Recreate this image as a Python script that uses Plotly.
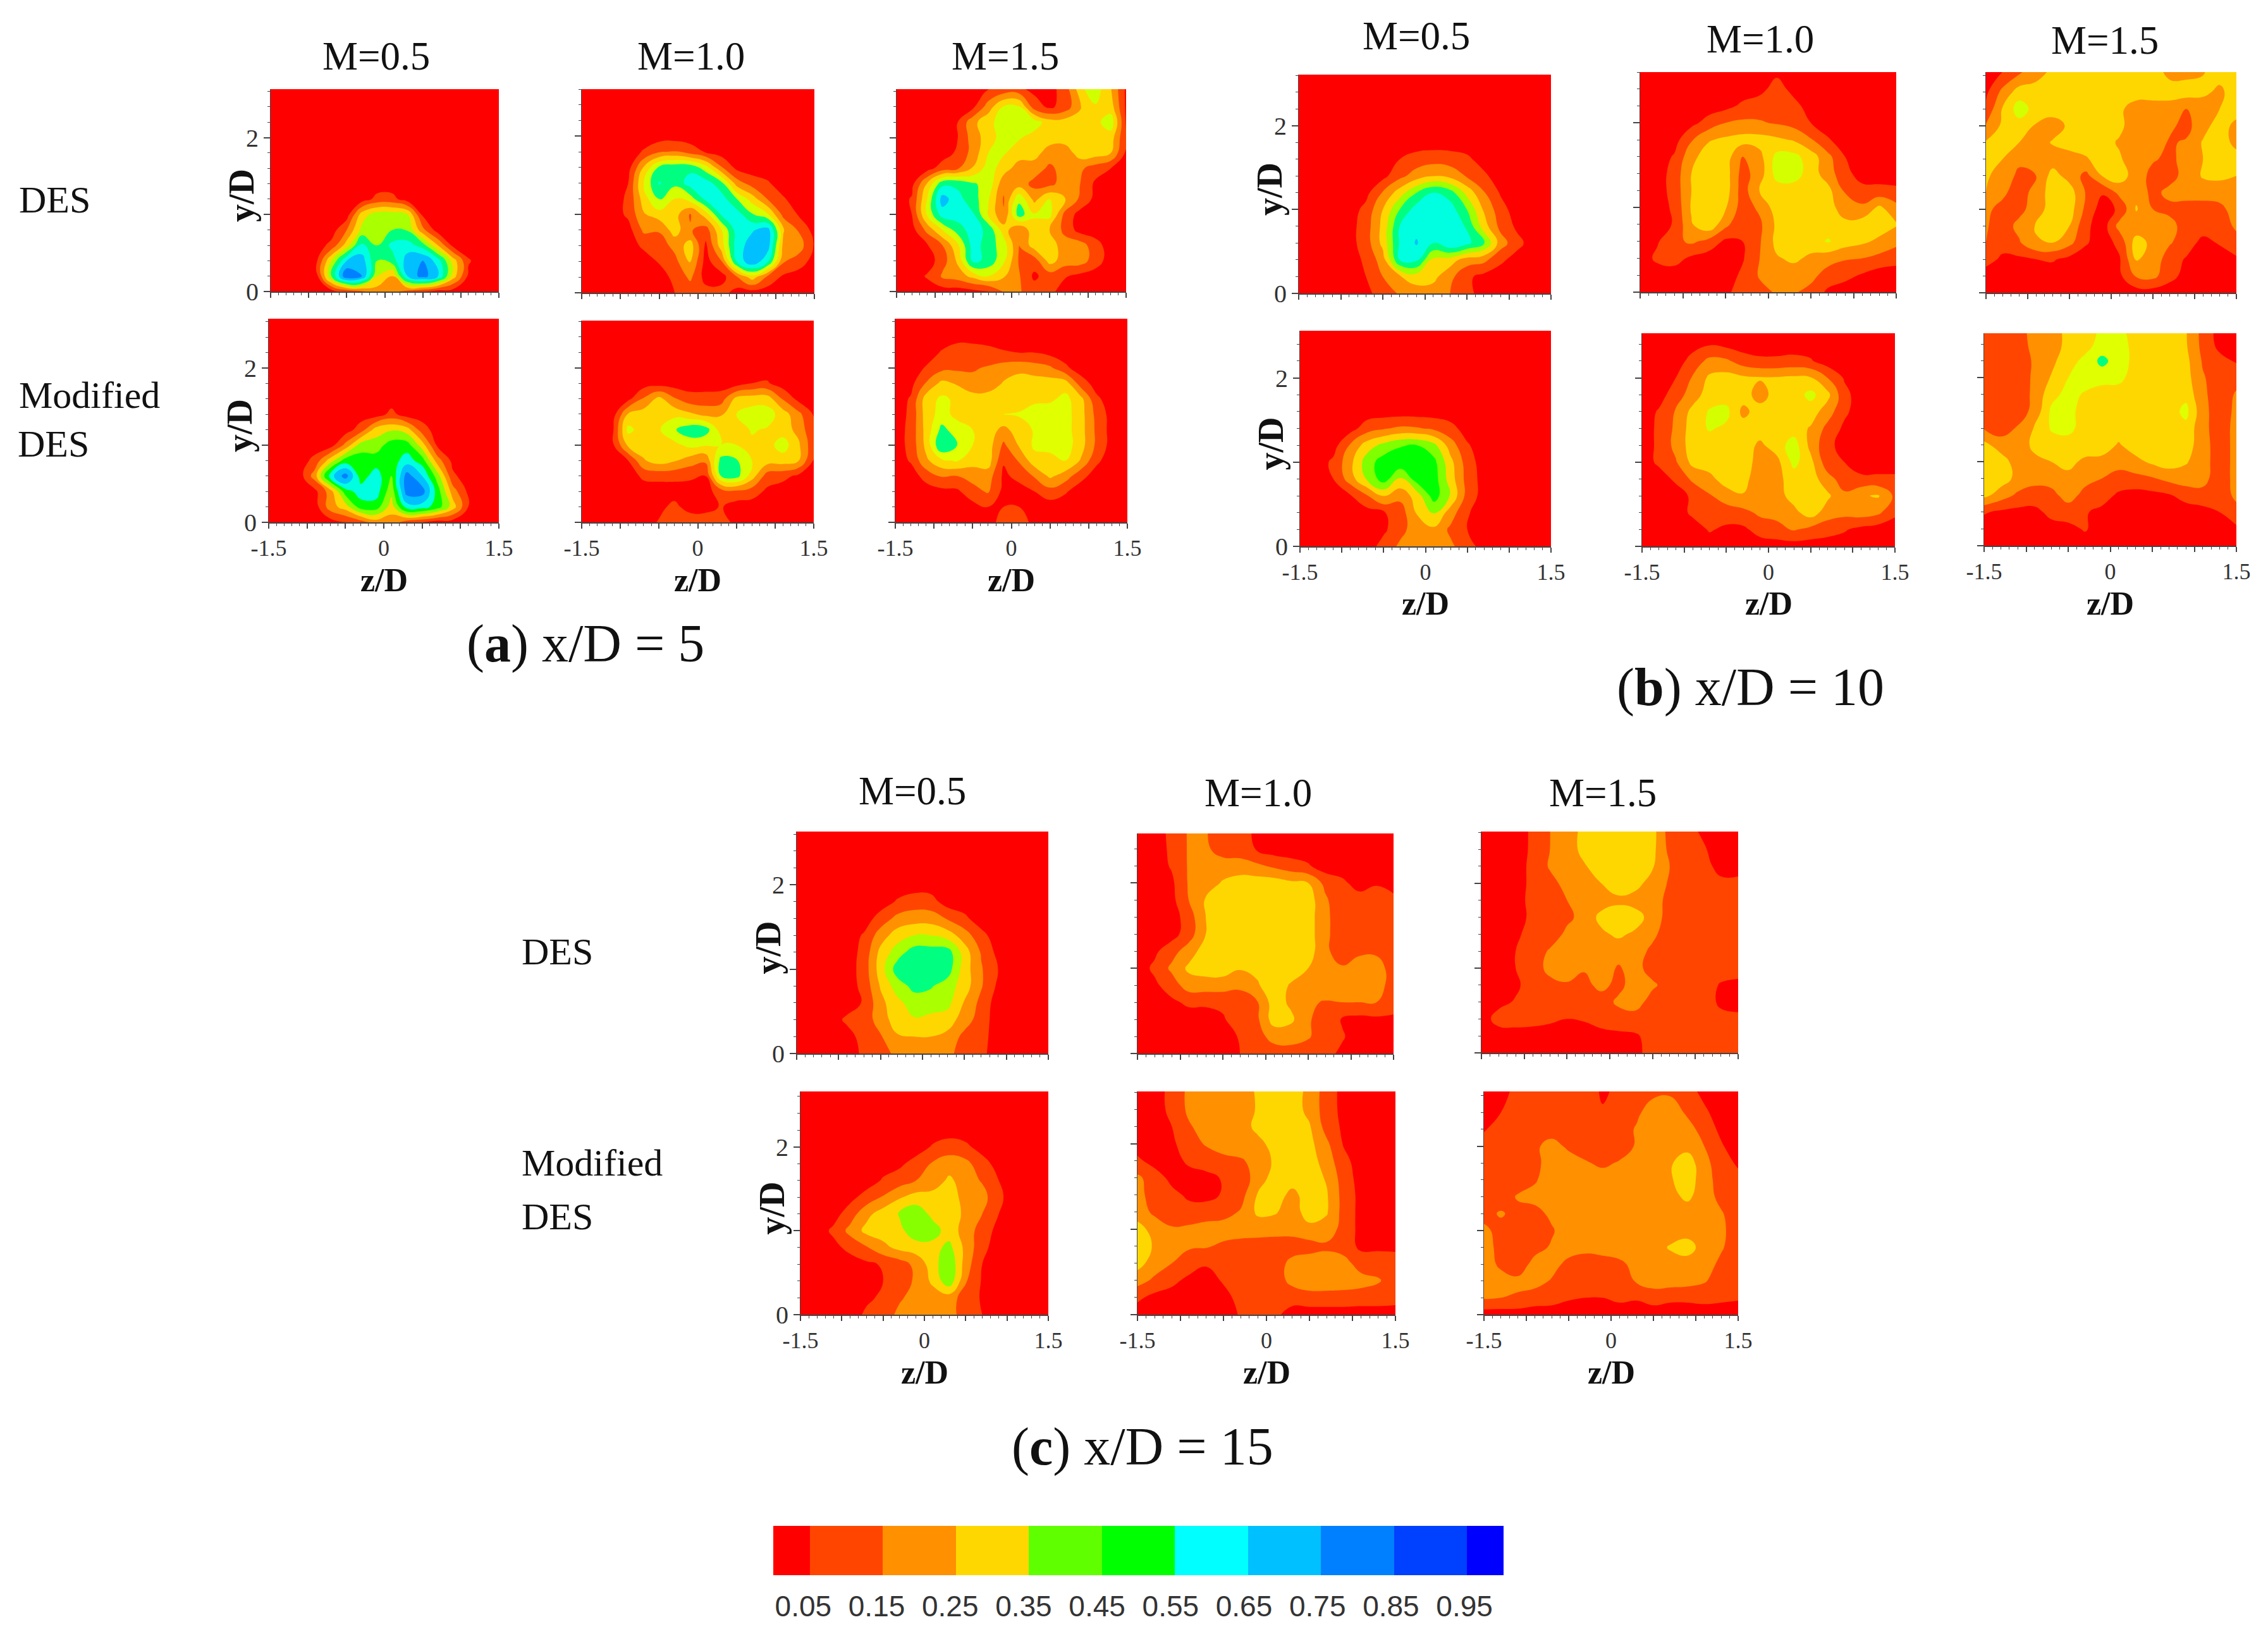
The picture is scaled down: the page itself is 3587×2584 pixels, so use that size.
import plotly.graph_objects as go

W, H = 3587, 2584
FONT = "Liberation Serif"
Z_GRID = [-1.5 + 0.2 * i for i in range(16)]
Y_GRID = [0.2 * j for j in range(13)] + [2.7]

# Values are in tenths of the plotted variable; rows run from the top of a panel down to y/D = 0.
A_DES_05 = [
 [0]*16,[0]*16,[0]*16,[0]*16,[0]*16,[0]*16,[0]*16,
 [0,0,0,0,0,0,0,.8,.8,0,0,0,0,0,0,0],
 [0,0,0,0,0,0,3,4,4,3.5,.3,0,0,0,0,0],
 [0,0,0,0,0,1.5,3.8,4,4.5,4.4,1.8,0,0,0,0,0],
 [0,0,0,0,.8,3,5.8,4.5,5.8,6,5,2.5,.2,0,0,0],
 [0,0,0,.3,3.5,6.5,7,4.5,5,7,7.5,6,3,.6,0,0],
 [0,0,0,0,4.5,8.5,7.5,3.5,2.5,6.5,8,6.5,3,.3,0,0],
 [0,0,0,0,0,.7,1.3,2,1.7,1.2,.6,0,0,0,0,0]]
A_DES_10 = [
 [0]*16,[0]*16,[0]*16,[0]*16,
 [0,0,0,0,.6,1.4,1.6,1,.4,0,0,0,0,0,0,0],
 [0,0,0,.1,2.6,4.7,5.2,5.2,3.9,1.6,.2,0,0,0,0,0],
 [0,0,0,.5,3.6,5.6,4.8,6,6,4.8,2,1,.6,0,0,0],
 [0,0,0,.7,3,4.7,3.4,4,5.8,6,4.5,3,1.4,.6,0,0],
 [0,0,0,.7,2.4,3,2.9,1.4,3,5.6,6,4.6,3.6,1.2,.4,0],
 [0,0,0,.1,1.7,1.6,3,1.6,1,3.4,6,6.4,7,2.6,1.4,.1],
 [0,0,0,0,.7,1,1.8,3,.3,3,6,7,7,2.2,2,.4],
 [0,0,0,0,0,.6,1.2,2.6,.1,1.4,5.6,7.4,5.6,1.6,1,.1],
 [0,0,0,0,0,0,.8,1.7,.1,.1,1.4,3,1.2,.3,0,0],
 [0,0,0,0,0,0,.5,.9,.9,.9,.1,0,0,0,0,0]]
A_DES_15 = [
 [0,0,0,0,0,0,0,0,0,0,0,1.2,3.4,4.2,2.5,.3],
 [0,0,0,0,0,.3,2,3.6,3.6,1,.3,.9,2.4,3.4,3,.3],
 [0,0,0,0,.5,2.2,3.2,4,4,4,3,3,2.9,3.2,4.1,.4],
 [0,0,0,0,.5,2,3,4,3.6,3.1,3,3,3,3,3,.5],
 [0,0,0,0,.7,1.9,3.5,3.6,3,2.9,2,1.9,3,3,2.5,.3],
 [0,0,.1,1,1.4,2.6,4,3,2,2,1.3,1.9,1.7,1,.5,0],
 [0,.2,2.6,5.2,5.3,4.6,4.2,1.8,2,1.2,1.2,2,1.5,.3,0,0],
 [0,.6,3.5,7,5.8,5,3.6,1.4,4.3,2.2,3.5,2.6,1.3,.2,0,0],
 [0,.5,3.6,6,6,5.6,3.4,1.6,5,3.6,3.8,1.2,.1,0,0,0],
 [0,.1,1.8,3.5,5,6,5.2,3,1.5,3.2,2.5,1.2,.1,0,0,0],
 [0,0,.4,1.5,3.3,6,5,4,1.5,3,3,2,2,.9,0,0],
 [0,0,0,1,2.7,5.8,5.2,3.7,1.4,1,2.9,2,2,1,0,0],
 [0,0,.6,1.7,2,2.8,3.5,2.6,1.6,.3,1,.6,.2,0,0,0],
 [0,0,0,0,0,.2,.4,1.6,1.6,1,.8,0,0,0,0,0]]
A_MOD_05 = [
 [0]*16,[0]*16,[0]*16,[0]*16,[0]*16,[0]*16,
 [0,0,0,0,0,0,0,0,.8,0,0,0,0,0,0,0],
 [0,0,0,0,0,0,1,3,3.4,3,1,0,0,0,0,0],
 [0,0,0,0,0,1.8,4,4,5,5,3,.3,0,0,0,0],
 [0,0,0,.8,3,5,5,5,5,6,5,2,.2,0,0,0],
 [0,0,0,2,6,8,5,6,4.5,8,6.5,4,.7,0,0,0],
 [0,0,0,.2,2,5,6,6,3.8,8,8,5,2,.3,0,0],
 [0,0,0,0,2,3,5,5,3,6,6,5,3,.5,0,0],
 [0,0,0,0,0,.4,1,2,2,1,.5,0,0,0,0,0]]
A_MOD_10 = [
 [0]*16,[0]*16,[0]*16,[0]*16,
 [0,0,0,0,0,0,0,0,0,0,0,.5,.6,0,0,0],
 [0,0,0,.2,1.6,2.8,1.6,.9,.9,1,2.8,3,3,1.4,.2,0],
 [0,0,0,2.6,3,3.2,3.2,2.7,2.2,2.4,3.5,4,4,3,1.8,.4],
 [0,0,.3,3.8,3,3.4,4.4,5.2,5,3,3,3.6,3.4,3,2.2,.6],
 [0,0,.3,2.7,3,3.1,3.2,3.8,3.6,3.5,3.5,3.3,3.1,4,2.7,.8],
 [0,0,0,.5,2.4,3,2.6,2,1.7,4.8,4.6,3.5,3,3,2.6,.4],
 [0,0,0,0,.7,.8,.8,.7,.5,4.5,4.9,3,1,.8,.3,0],
 [0,0,0,0,0,0,0,0,.1,1,1.3,1,.3,0,0,0],
 [0,0,0,0,0,.2,.8,0,0,.6,0,0,0,0,0,0],
 [0,0,0,0,0,.6,1.2,1.3,1.3,1,.2,0,0,0,0,0]]
A_MOD_15 = [
 [0]*16,[0]*16,
 [0,0,0,.6,1.3,1.2,.9,.6,.5,.5,.2,0,0,0,0,0],
 [0,0,.6,1.2,1.3,1.4,1.6,2,2.2,2,1.7,.7,0,0,0,0],
 [0,.2,1.6,2.8,2.4,1.8,1.9,2.6,3,3,3,3,1,.1,0,0],
 [0,.6,3,3.7,3.3,3,3,3,3,3,3.3,3.8,2.8,.7,0,0],
 [0,.7,3,3.9,3.2,3,3,3.5,3.6,4.5,4.1,3.9,2.9,1.2,.1,0],
 [0,.8,2.9,4.8,4,3.5,3,2.2,3,3.6,3.9,3.9,2.9,1.3,.1,0],
 [0,.8,2.8,5.5,4.5,3.5,3,1.3,2.6,3.7,4,4,2.9,1.3,.1,0],
 [0,.6,2.3,3.3,3.6,3,3,.6,1.6,3.1,3,3.5,2.4,.7,0,0],
 [0,0,.9,1.6,1.5,1.8,2,.3,.8,1.6,2.7,2,.8,.1,0,0],
 [0,0,0,.2,.3,1.2,1.6,.2,.1,.5,1.1,.6,0,0,0,0],
 [0,0,0,0,0,.1,.5,.5,.5,0,0,0,0,0,0,0],
 [0,0,0,0,0,0,0,1,1,.2,0,0,0,0,0,0]]

B_DES_05 = [
 [0]*16,[0]*16,[0]*16,[0]*16,[0]*16,
 [0,0,0,0,0,0,.5,.9,1.1,1,.7,.1,0,0,0,0],
 [0,0,0,0,0,.2,1.2,2,2.5,2.2,1.4,.7,0,0,0,0],
 [0,0,0,0,.2,1.6,3,4.5,5.6,5,3.2,1.6,.4,0,0,0],
 [0,0,0,0,.8,2.5,4.5,6,6.1,6,4.5,2.4,.9,0,0,0],
 [0,0,0,.1,1,2.8,5.5,6.2,6,6.1,5.4,3,1.2,.3,0,0],
 [0,0,0,.1,1,2.8,5.6,6.6,5.5,6.5,5.8,4.6,2,.8,0,0],
 [0,0,0,0,.7,2,5.5,5.7,3.2,3,2,1.8,.7,.1,0,0],
 [0,0,0,0,.5,1.5,2.4,3,2.8,1.8,.7,.2,0,0,0,0],
 [0,0,0,0,.2,1,1.6,2,2,1.5,.8,.1,0,0,0,0]]
B_DES_10 = [
 [0]*16,
 [0,0,0,0,0,0,0,.2,.9,.2,0,0,0,0,0,0],
 [0,0,0,0,0,.2,.7,1,1.2,.8,.1,0,0,0,0,0],
 [0,0,0,.2,.9,1.5,1.7,1.6,1.4,1.1,.5,0,0,0,0,0],
 [0,0,.1,1.4,2.4,2.7,2.9,2.9,2.7,2.4,1.6,.6,0,0,0,0],
 [0,0,.6,2.2,3,3,1.5,2.2,3.8,3.8,3,1.8,.5,0,0,0],
 [0,0,.9,2.5,3,3,1.1,2,3.9,4,3,2,.8,.1,0,0],
 [0,0,.9,2.5,3,3,1,2.6,3,3,3,2.8,1.4,.8,.8,.7],
 [0,0,.7,2.6,3,2.6,1,1.7,3,3,3,3,1.9,1.7,2.7,1.8],
 [0,0,.6,2.4,3.3,1.8,.6,1.3,2.7,3.2,3,3,2.8,3,3,2.6],
 [0,.4,1.2,1.7,1.2,.3,.5,1.4,2.8,3,3,3.6,3,2.7,2.3,1.8],
 [0,.7,.9,.3,0,0,.4,1.5,2.4,2.7,2.3,1.9,1.6,1.5,1.2,.9],
 [0,0,0,0,0,0,.7,1.6,2,2,1.8,1.1,.8,.4,0,0],
 [0,0,0,0,0,.3,.9,1.2,1.6,1.6,1.2,.3,0,0,0,0]]
B_DES_15 = [
 [0,.2,.9,1.8,2.6,3,3,3,3,3,3,2,2,2.4,3,3],
 [.3,1.8,3,3,3,3,3,3,3,3,3,3,3,2.7,2.3,3],
 [.7,2.6,4,3.1,3,3,3,3,2.7,2,2,2,1.5,2,2.5,3],
 [1.6,2.7,3.1,2.4,2,2.7,3,3,2.7,2,2,1.7,1.2,2.1,3,2.2],
 [2.6,3,2.5,2,2.6,3,3,2.8,2.4,2,2,1.4,1.6,2.6,3,2.2],
 [2.7,2.5,1.8,2,2,2,2.4,3,2.6,2,1.6,1.3,1.8,2.5,3,2.9],
 [2.6,2.2,1.2,1.5,2.9,2.1,1.2,2.6,3,2,1.2,1.1,1.9,2.6,2.7,2.5],
 [2.5,1.7,1,1.9,3,3,1.4,.6,1.8,2.2,1.2,1.8,2,2,2,2],
 [1.7,1.2,1.2,2,3,3,1.2,0,.7,2.6,1.5,1.2,1,1,1.2,2],
 [1.6,1,1.8,2.6,3,2.5,.7,0,1.9,1.8,2,1.9,1,1,1.2,1.6],
 [1.5,.9,1.4,2.4,2.5,1.8,.6,0,.8,3,2.2,1.6,1,.2,.6,1.3],
 [.9,.3,.3,.5,.6,.2,0,0,.4,2.6,2.1,1,.4,0,0,.3],
 [0,0,0,0,0,0,0,0,.3,1.6,1.8,.8,.2,0,0,0],
 [0]*16]
B_MOD_05 = [
 [0]*16,[0]*16,[0]*16,[0]*16,[0]*16,[0]*16,
 [0,0,0,.1,1,1.4,1.7,1.6,1.3,.8,.1,0,0,0,0,0],
 [0,0,.1,1.6,3,3.8,4.4,4.5,3.8,2,.6,0,0,0,0,0],
 [0,0,.7,2.2,4,5,5.2,5.2,4.8,2.8,1,0,0,0,0,0],
 [0,0,.5,2,3.6,5,3.4,5,5,3,1.1,.1,0,0,0,0],
 [0,0,0,.4,1.4,2.6,1.8,3,5,3.4,1.1,.1,0,0,0,0],
 [0,0,0,0,.1,.4,1,2.6,3.6,2,.6,0,0,0,0,0],
 [0,0,0,0,0,.3,1.2,2,2.3,1.3,.5,0,0,0,0,0],
 [0,0,0,0,0,.9,1.7,2.2,2.2,1.7,.9,.1,0,0,0,0]]
B_MOD_10 = [
 [0]*16,
 [0,0,0,.1,.4,.2,0,0,0,0,0,0,0,0,0,0],
 [0,0,0,.9,1.8,1.7,1,.7,.7,.8,.6,0,0,0,0,0],
 [0,0,.5,1.6,2.7,2.9,2.7,2.6,2.6,2.7,2.6,1.5,.4,0,0,0],
 [0,.1,1,2,3,3,3,2,3,3,3.8,2.8,.8,0,0,0],
 [0,.6,1.6,2.8,3.6,3.8,2.2,3,3,3.2,3,2,.7,0,0,0],
 [0,.7,1.7,3,3.6,3.3,3,3,3,3,2.4,1.2,.3,0,0,0],
 [0,.7,1.8,3,3,2.8,3,2.3,3,4,2.2,.8,.1,0,0,0],
 [0,.7,1.4,2.8,3,2.9,3,2.1,2.2,3.8,2.8,.9,.5,0,0,0],
 [0,0,.7,1.7,2.2,3,3,1.6,2.2,3,3,1.9,1,.7,.7,.7],
 [0,0,0,.7,1.4,2,2.4,1.8,2.1,2.9,3,2.7,1.7,2.4,2.6,1.3],
 [0,0,0,.7,1,1,1.2,1.7,1.8,2.2,3,2,1.8,2,1.7,.7],
 [0,0,0,0,.6,.3,.3,.9,1.2,1.6,1.2,.9,.6,.2,0,0],
 [0]*16]
B_MOD_15 = [
 [1,1,1.2,1.8,2.2,2.8,3.2,3.6,3.6,3.2,3,3,2.6,1.2,.2,.4],
 [1,1,1.2,1.7,2,2.8,3.2,3.8,3.9,3.2,3,3,2.6,1.2,.2,.3],
 [1,1,1.1,1.6,2.2,3.2,3.7,4.8,4,3.2,3,3,2.8,1.4,.8,.4],
 [1,.9,1.2,1.6,2.6,3.5,3.9,3.9,3.8,3,3,3,2.9,1.6,1,1.2],
 [1,1,1,1.7,3.2,3.8,3.4,3,3,3,3,3,3.2,1.7,1,1.6],
 [1,.7,1,1.8,3.7,3.9,3,3,3,3,3,3,3.8,1.8,1,1.7],
 [1.4,1,1.6,2.6,3.6,3.7,3.2,3,3,3,3,3,3.2,1.8,1,1.8],
 [2.8,2,1.8,2.8,3.1,3.2,3.3,3,2.4,3,3,3,3,1.9,1,1.8],
 [3,3,2,2.2,2.5,2.9,2.2,2.2,1.8,2.2,2.7,3,2.6,1.9,1,1.8],
 [3,3,2.2,1.8,1.9,2.1,1.8,1.5,1.2,1.2,1.4,1.8,2,1.8,1,1.8],
 [2.8,2,1.3,1.1,1.2,1.9,1.2,1,.3,.1,.2,.4,.9,1.2,1,1.7],
 [.6,.3,.2,.2,.8,1,.6,.2,0,0,0,0,0,.1,.5,1.2],
 [0,0,0,0,.1,.2,.6,0,0,0,0,0,0,0,0,.3],
 [0]*16]

C_DES_05 = [
 [0]*16,[0]*16,[0]*16,[0]*16,
 [0,0,0,0,0,0,.6,1,.9,0,0,0,0,0,0,0],
 [0,0,0,0,0,.9,1.8,2,2,1.4,.7,0,0,0,0,0],
 [0,0,0,0,.6,2,3,3.5,3.5,3,2,.8,0,0,0,0],
 [0,0,0,0,.8,2.8,4,5,5,5,3,1.4,.2,0,0,0],
 [0,0,0,0,.9,3,5,5.2,5.2,5,3,1.6,.5,0,0,0],
 [0,0,0,0,.8,2.6,4,4.8,4.6,4,3,1.6,.3,0,0,0],
 [0,0,0,0,.6,2.2,3.2,4,4,3.8,2.4,1.2,0,0,0,0],
 [0,0,0,.7,.9,2,3,3.4,3.2,3,2,1,0,0,0,0],
 [0,0,0,.1,.9,1.4,2.4,2.5,2.5,2.2,1.2,.8,.1,0,0,0],
 [0,0,0,0,.7,1,1.8,2.2,2.2,1.8,1,.7,.1,0,0,0]]
C_DES_10 = [
 [0,0,.8,1.6,1.6,1,1,.3,0,0,0,0,0,0,0,0],
 [0,0,.7,1.6,1.7,1,1,.4,0,0,0,0,0,0,0,0],
 [0,0,.6,1.6,2,2,1.9,1.7,1.3,.9,.6,0,0,0,0,0],
 [0,0,.3,1.6,2,2.6,3,3,3,2.7,2.5,1.2,.7,.1,.4,0],
 [0,0,.2,1.5,2.6,3,3,3,3,3,3,1.7,.6,.9,1,.8],
 [0,0,0,1,2.5,3,3,3,3,3,3,1.7,1,1,1,1],
 [0,0,.1,1,2.5,3,3,3,3,3,3,1.7,1,1,1,1],
 [0,.3,1.1,2,3,3,3,3,3,3,3,1.7,1,1.3,1.3,1],
 [0,.7,1.7,2.7,3,3,2.6,2.7,3,3,2.5,1.6,1.6,2,2,1],
 [0,.3,1,2,2,2,1.7,2.4,3,2.4,2.4,2.4,2,2,2,1],
 [0,0,.3,.7,.7,.7,1,1.4,3,2.3,1.7,1.4,1.5,1.5,1.5,1],
 [0,0,0,0,0,.4,1,1.3,3,2.7,1.6,1.1,.4,.2,.3,.3],
 [0,0,0,0,0,0,.6,1.2,1.8,1.9,1.6,1,.6,0,0,0],
 [0,0,0,0,0,0,.5,1,1.1,1.1,1,.8,.3,0,0,0]]
C_DES_15 = [
 [0,0,0,.7,1.5,2,2.7,3,3,3,2.9,1,.7,.2,0,0],
 [0,0,0,.7,1.5,2,2.8,3,3,3,2.8,1.2,.9,.6,0,0],
 [0,0,0,.8,1.6,1.9,2.4,3,3,3,2.6,1.5,1,.8,.2,.2],
 [0,0,0,.8,1.2,1.8,2,2.5,3,2.9,2,1.4,1,.9,.7,.7],
 [0,0,0,.9,1,1.5,2,2,2.3,2,1.8,1.3,1,1,1,1],
 [0,0,0,.8,1,1.3,1.8,2.8,3,3,2,1.1,1,1,1,1],
 [0,0,.3,.9,1,1.7,2,2.3,2.7,2.3,1.7,1,1,1,1,1],
 [0,0,.5,1,1.6,2.1,2,2,1.9,1.9,1.3,1,1,1,1,1],
 [0,0,.5,1,1.8,2.4,1.6,2,1.4,1.9,1,1,1,1,1,1],
 [0,0,.3,1,1.2,1.3,1.2,1.8,1.2,2,1.7,1,1,1,.4,.2],
 [0,.2,.6,1,1,1,1,1,1.7,2,1,1,1,1,.3,.2],
 [0,.9,1,.9,.7,.5,.6,1,1,1,1,1,1,1,.8,.7],
 [0,0,0,0,0,0,0,.1,.3,.4,.8,1,1,1,1,1],
 [0,0,0,0,0,0,0,0,0,.3,.8,1,1,1,1,.7]]
C_MOD_05 = [
 [0]*16,[0]*16,[0]*16,
 [0,0,0,0,0,0,0,0,.6,1,.7,.1,0,0,0,0],
 [0,0,0,0,0,.1,.3,.9,1.6,2,1.8,.9,.1,0,0,0],
 [0,0,0,0,0,.6,1,1.5,1.9,2.7,2,1.4,.5,0,0,0],
 [0,0,0,.2,.9,1.6,2.4,2.9,2.9,2.9,2.2,1.9,.7,0,0,0],
 [0,0,.1,1,2.2,3,3.6,4.2,3.2,3,2.3,1.5,.5,0,0,0],
 [0,0,.7,1.8,2.8,3,3.2,4.2,4,3,2.1,1,.2,0,0,0],
 [0,0,.2,.8,1.4,2.2,2.8,3,3.1,3.8,2.2,.8,0,0,0,0],
 [0,0,0,0,.3,.6,1,1.8,3,4.4,2,.5,0,0,0,0],
 [0,0,0,0,0,.5,.9,1.7,2.7,4.2,1.6,.4,0,0,0,0],
 [0,0,0,0,.3,.7,1.4,1.8,2,2,1,.4,0,0,0,0],
 [0,0,0,0,.7,1.1,1.7,2,2,1.9,1,.5,0,0,0,0]]
C_MOD_10 = [
 [0,0,.8,1.7,2,2,2,2.7,3,3,2.3,1,.2,0,0,0],
 [0,0,.8,1.7,2,2,2,2.6,3,3,2.2,1,.2,0,0,0],
 [0,0,.5,1.4,1.9,2,2,2.8,3,3,2.6,1.1,.3,0,0,0],
 [0,0,.3,1.1,1.6,2,2,2.2,2.9,3,2.8,1.7,.4,0,0,0],
 [.7,.1,.1,.7,1,1.2,1.4,1.8,2.7,3,3,2,.8,0,0,0],
 [1.7,1,.2,.1,.2,.6,1,1.9,3,3,3,2.4,1,.1,0,0],
 [1.8,1.1,.8,.3,.2,.6,1.1,2.6,3,2.2,3,2.6,1.1,.2,0,0],
 [2,1.3,1,.9,1,1.1,1.6,2.7,2.6,2,3,2.6,1.1,.2,0,0],
 [2.9,2.1,1.6,1.7,1.9,2,2,1.9,1.9,1.9,2.2,2.1,1.1,.2,0,0],
 [3,2.4,1.9,1.6,1.6,1.3,1.1,1.1,1,1,1.1,1.3,1,.3,.3,.3],
 [2.9,2,1.5,1.1,.6,.7,1,1,1,1.8,2,2,1.9,1,1,.9],
 [1.9,1.3,.8,.2,.1,.6,.9,1,1,1.8,2.1,2.1,2,1.9,1.6,1],
 [.7,.2,0,0,0,.2,.8,1,.6,.9,1.1,1.1,1.1,1,1,.9],
 [0,0,0,0,0,0,.6,1,.7,.1,0,0,0,0,0,0]]
C_MOD_15 = [
 [0,.2,.7,1,1,1,1.1,.3,.7,1,1.1,1.1,.8,.1,0,0],
 [0,.5,1,1,1,1,1,.6,1,1.3,2,2.2,1.3,.7,0,0],
 [.4,1,1,1,1,1,1,1,1,1.6,2.2,2.3,2,1,.3,0],
 [1,1,1,1.3,1.9,1.3,1,1,1,1.6,2.1,2.2,2.2,1.5,.6,0],
 [1,1,1,1.2,2,2,1.6,1.3,1.6,2,2.1,2.4,3,1.9,.8,.4],
 [1,1,1,1.4,2,2,2,2,2,2,2.1,2.4,3,2,1,.7],
 [1,1,1.6,1.8,2,2,2,2,2,2,2,2.2,2.7,2,1.2,.8],
 [1.2,1.6,1.2,1.2,1.7,2,2,2,2,2,2,2,2,2,1.6,.9],
 [1.7,1.2,1,1,1.4,2,2,2,2,2,2,2,2,2,1.7,1],
 [1.9,1.2,1,1.2,1.6,2,1.8,2,2,2,2.1,2.6,3,2,1.6,1],
 [2,1.3,1,1.8,1.9,1.2,1,1,1.3,1.8,2,2.1,2,1.9,1.3,1],
 [2,1.9,1.7,1.9,1.4,1,1,1,1,1.6,2,2,1.9,1.6,1,1],
 [1.6,1.5,1.4,1,.9,.6,.5,.5,.7,.6,.9,.7,.7,.8,.7,.6],
 [0]*16]

BAND_COLORS = ["#FF0000","#FF4500","#FF9000","#FFD700","#C8FF00","#00FF80",
               "#00FFE0","#00C0FF","#0080FF","#0040FF","#0000FF"]
CB_EDGES = [0,.05,.15,.25,.35,.45,.55,.65,.75,.85,.95,1.0]
CB_COLORS = ["#FF0000","#FF4500","#FF9000","#FFD700","#5FFF00","#00FF00",
             "#00FFFF","#00C0FF","#0080FF","#0040FF","#0000FF"]
CB_TICKS = [.05,.15,.25,.35,.45,.55,.65,.75,.85,.95]

# data, left, right, top, bottom (px), top of y axis, lime, green
PANELS = [
 (A_DES_05, 428,789,141,461,2.63,"#AAFF00","#00FF80",True,False),
 (A_DES_10, 920,1288,141,463,2.60,"#D4FF00","#00FF80",False,False),
 (A_DES_15, 1418,1781,141,461,2.63,"#D0FF00","#00FF80",False,False),
 (A_MOD_05, 425,789,504,826,2.64,"#88FF00","#00FF00",True,True),
 (A_MOD_10, 920,1287,507,826,2.61,"#D8FF00","#00FF80",False,True),
 (A_MOD_15, 1416,1783,504,826,2.64,"#E0FF00","#00FF80",False,True),
 (B_DES_05, 2054,2453,118,464,2.61,"#A0FF00","#00FF80",True,False),
 (B_DES_10, 2594,2999,114,462,2.60,"#D4FF00","#00FF80",False,False),
 (B_DES_15, 3141,3537,114,463,2.64,"#D4FF00","#00FF80",False,False),
 (B_MOD_05, 2056,2453,523,864,2.56,"#80FF00","#00FF00",True,True),
 (B_MOD_10, 2597,2997,527,864,2.53,"#D4FF00","#00FF80",False,True),
 (B_MOD_15, 3138,3537,527,863,2.53,"#E0FF00","#00FF80",False,True),
 (C_DES_05, 1260,1658,1315,1666,2.63,"#AAFF00","#00FF80",True,False),
 (C_DES_10, 1799,2204,1318,1666,2.58,"#D4FF00","#00FF80",False,False),
 (C_DES_15, 2343,2749,1315,1665,2.61,"#D4FF00","#00FF80",False,False),
 (C_MOD_05, 1266,1658,1726,2079,2.66,"#88FF00","#00FF80",True,True),
 (C_MOD_10, 1799,2207,1726,2079,2.61,"#D4FF00","#00FF80",False,True),
 (C_MOD_15, 2347,2749,1726,2079,2.65,"#D4FF00","#00FF80",False,True),
]

TITLES = [("M=0.5",595,89),("M=1.0",1093,89),("M=1.5",1590,89),
          ("M=0.5",2240,57),("M=1.0",2784,62),("M=1.5",3329,64),
          ("M=0.5",1443,1251),("M=1.0",1990,1254),("M=1.5",2535,1254)]
ROW_LABELS = [("DES",28,316),("Modified",28,625),("DES",26,702),
              ("DES",823,1505),("Modified",823,1839),("DES",823,1924)]
CAPTIONS = [("(<b>a</b>) x/D = 5",926,1018),("(<b>b</b>) x/D = 10",2768,1087),
            ("(<b>c</b>) x/D = 15",1807,2288)]

fig = go.Figure()
layout = {}
anns = []

def px(x, y):
    return x / W, 1 - y / H

def note(text, x, y, size, xanchor="center", angle=0):
    fx, fy = px(x, y)
    anns.append(dict(text=text, x=fx, y=fy, xref="paper", yref="paper", xanchor=xanchor,
                     yanchor="middle", showarrow=False, textangle=angle,
                     font=dict(family=FONT, size=size, color="#111")))

TICK = "#444"
for n, (rows, x0, x1, yt, yb, ymax, lime, green, left_lab, bot_lab) in enumerate(PANELS, 1):
    assert len(rows) == 14 and all(len(r) == 16 for r in rows), n
    z = [[v / 10 for v in r] for r in rows[::-1]]
    cols = list(BAND_COLORS)
    cols[4], cols[5] = lime, green
    xa, ya = f"x{n}", f"y{n}"
    fig.add_trace(go.Contour(
        x=Z_GRID, y=Y_GRID, z=z, xaxis=xa, yaxis=ya, showscale=False, hoverinfo="skip",
        colorscale=[[i / 10, c] for i, c in enumerate(cols)],
        line=dict(width=0, smoothing=1.3),
        contours=dict(coloring="fill", showlines=False, start=0.05, end=0.95, size=0.1)))
    layout[f"xaxis{n}"] = dict(
        domain=[x0 / W, x1 / W], range=[-1.5, 1.5], anchor=ya, side="bottom", automargin=False,
        tickmode="array", tickvals=[-1.5,-1,-.5,0,.5,1,1.5],
        ticktext=["-1.5","","","0","","","1.5"] if bot_lab else [""] * 7,
        ticks="outside", ticklen=8, tickwidth=2, tickcolor=TICK, showgrid=False, zeroline=False,
        showline=True, linecolor=TICK, linewidth=2, ticklabelstandoff=0,
        tickfont=dict(family=FONT, size=36, color="#333"),
        minor=dict(ticks="outside", tickmode="linear", tick0=-1.5, dtick=0.1, ticklen=4,
                   tickwidth=1, tickcolor=TICK, showgrid=False))
    layout[f"yaxis{n}"] = dict(
        domain=[1 - yb / H, 1 - yt / H], range=[0, ymax], anchor=xa, side="left", automargin=False,
        tickmode="array", tickvals=[0,1,2], ticktext=["0","","2"] if left_lab else [""] * 3,
        ticks="outside", ticklen=10, tickwidth=2, tickcolor=TICK, showgrid=False, zeroline=False,
        showline=True, linecolor=TICK, linewidth=1, 
        tickfont=dict(family=FONT, size=40, color="#333"),
        minor=dict(ticks="outside", tickmode="linear", tick0=0, dtick=0.2, ticklen=4,
                   tickwidth=1, tickcolor=TICK, showgrid=False))
    if bot_lab:
        note("<b>z/D</b>", (x0 + x1) / 2, yb + 91, 52)
    if left_lab:
        note("<b>y/D</b>", x0 - 46, (yt + yb) / 2 + 8, 56, angle=-90)

for t, x, y in TITLES:
    note(t, x, y, 63)
for t, x, y in ROW_LABELS:
    note(t, x, y, 60, xanchor="left")
for t, x, y in CAPTIONS:
    note(t, x, y, 84)

# colour bar
k = len(PANELS) + 1
fig.add_trace(go.Heatmap(
    x=CB_EDGES, y=[0, 1], z=[list(range(11))], xaxis=f"x{k}", yaxis=f"y{k}", showscale=False,
    hoverinfo="skip", zmin=0, zmax=10,
    colorscale=[s for i, c in enumerate(CB_COLORS) for s in ([i / 11, c], [(i + 1) / 11, c])]))
layout[f"xaxis{k}"] = dict(domain=[1223 / W, 2378 / W], range=[0, 1], anchor=f"y{k}", automargin=False,
    tickmode="array", tickvals=[v - 0.009 + (v - .05) * 0.006 for v in CB_TICKS],
    ticktext=[f"{v:.2f}" for v in CB_TICKS],
    ticks="", showgrid=False, zeroline=False, showline=False, ticklabelstandoff=18,
    tickfont=dict(family="Liberation Sans", size=46, color="#333"))
layout[f"yaxis{k}"] = dict(domain=[1 - 2491 / H, 1 - 2413 / H], range=[0, 1], anchor=f"x{k}", automargin=False,
    showticklabels=False, ticks="", showgrid=False, zeroline=False, showline=False)

fig.update_layout(width=W, height=H, margin=dict(l=0, r=0, t=0, b=0), autosize=False,
                  paper_bgcolor="white", plot_bgcolor="white", showlegend=False,
                  annotations=anns, **layout)
fig.write_html("out.html", post_script="document.body.style.margin='0';",
               config={"displayModeBar": False})
